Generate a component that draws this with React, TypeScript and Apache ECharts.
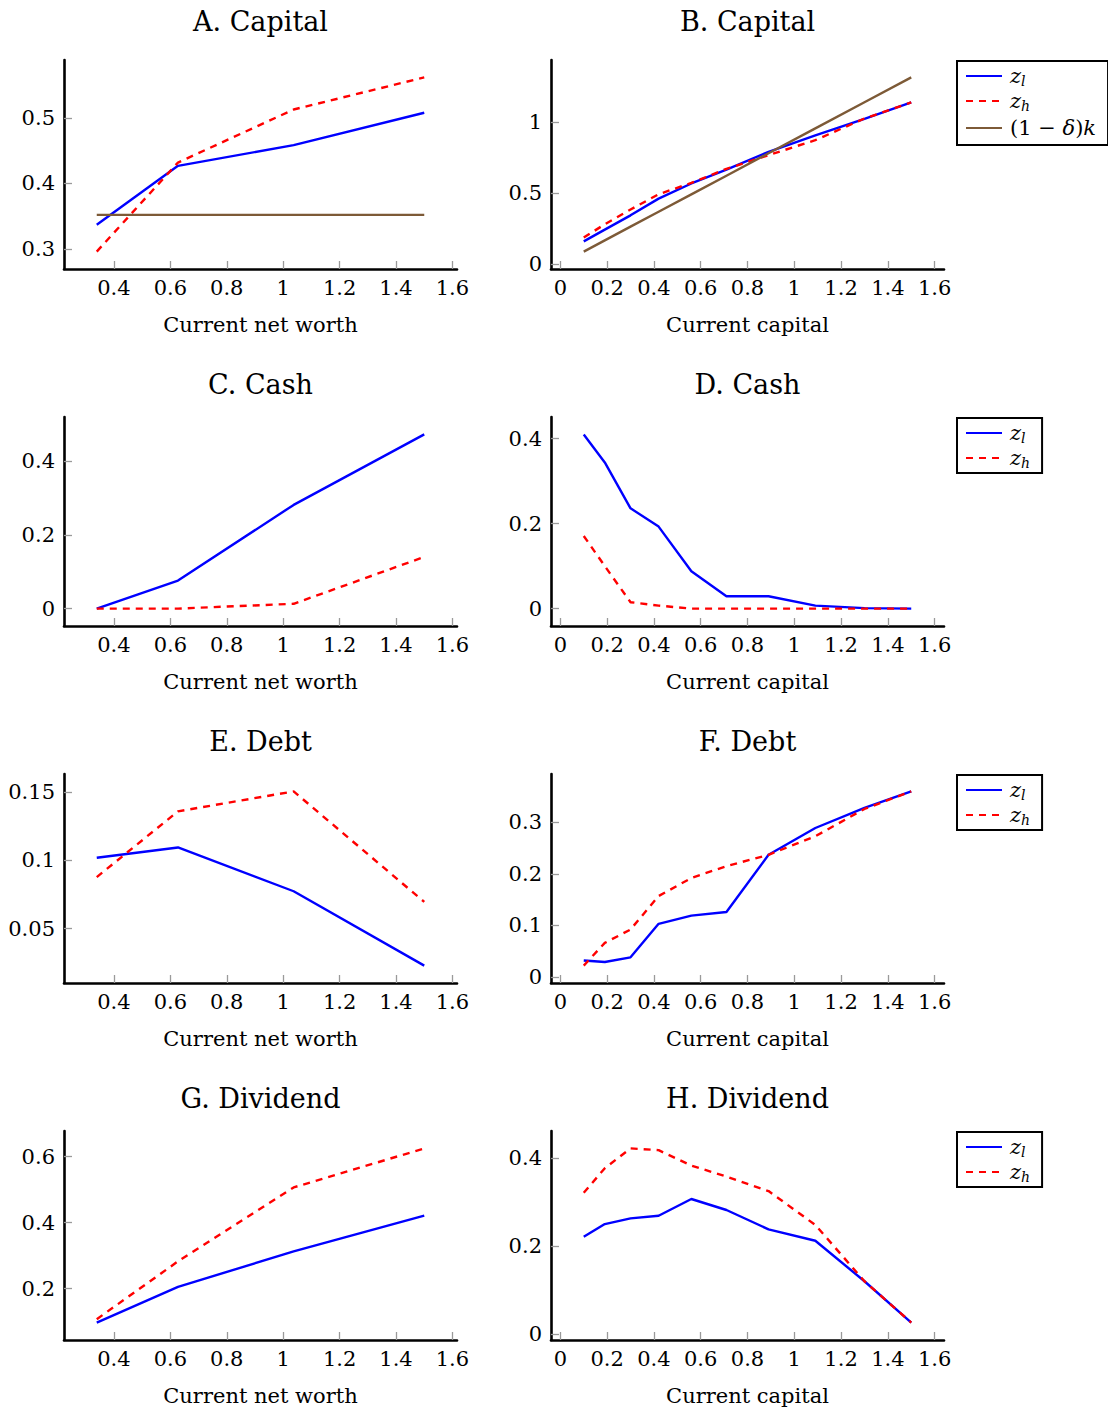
import React, { useEffect, useRef } from 'react';
import * as echarts from 'echarts';

// ---- grids of the state variable ----
const netWorth = [0.339, 0.627, 1.037, 1.5];
const capitalGrid = [0.1, 0.19, 0.3, 0.42, 0.56, 0.71, 0.89, 1.09, 1.3, 1.5];

// ---- tick values ----
const xTicksNetWorth = [0.4, 0.6, 0.8, 1, 1.2, 1.4, 1.6];
const xTicksCapital = [0, 0.2, 0.4, 0.6, 0.8, 1, 1.2, 1.4, 1.6];
const yTicksA = [0.3, 0.4, 0.5];
const yTicksB = [0, 0.5, 1];
const yTicksC = [0, 0.2, 0.4];
const yTicksD = [0, 0.2, 0.4];
const yTicksE = [0.05, 0.1, 0.15];
const yTicksF = [0, 0.1, 0.2, 0.3];
const yTicksG = [0.2, 0.4, 0.6];
const yTicksH = [0, 0.2, 0.4];

// ---- A. Capital vs net worth ----
const capitalA_zl = [0.337, 0.427, 0.4585, 0.508];
const capitalA_zh = [0.296, 0.432, 0.513, 0.562];
const capitalA_dk = [0.352, 0.352, 0.352, 0.352];
// ---- B. Capital vs capital ----
const capitalB_zl = [0.16, 0.243, 0.344, 0.462, 0.569, 0.667, 0.792, 0.908, 1.025, 1.141];
const capitalB_zh = [0.187, 0.281, 0.385, 0.493, 0.573, 0.672, 0.769, 0.875, 1.028, 1.141];
const capitalB_dk = [0.088, 0.167, 0.264, 0.369, 0.492, 0.624, 0.782, 0.958, 1.143, 1.318];
// ---- C. Cash vs net worth ----
const cashC_zl = [0, 0.076, 0.281, 0.472];
const cashC_zh = [0, 0, 0.013, 0.14];
// ---- D. Cash vs capital ----
const cashD_zl = [0.41, 0.344, 0.236, 0.193, 0.088, 0.029, 0.029, 0.007, 0.001, 0];
const cashD_zh = [0.171, 0.1, 0.015, 0.007, 0, 0, 0, 0, 0, 0];
// ---- E. Debt vs net worth ----
const debtE_zl = [0.102, 0.1095, 0.0774, 0.0229];
const debtE_zh = [0.0878, 0.136, 0.1506, 0.0696];
// ---- F. Debt vs capital ----
const debtF_zl = [0.032, 0.029, 0.038, 0.103, 0.119, 0.126, 0.237, 0.289, 0.328, 0.36];
const debtF_zh = [0.022, 0.066, 0.092, 0.157, 0.192, 0.215, 0.237, 0.273, 0.326, 0.36];
// ---- G. Dividend vs net worth ----
const divG_zl = [0.0967, 0.205, 0.3126, 0.421];
const divG_zh = [0.107, 0.2825, 0.5067, 0.625];
// ---- H. Dividend vs capital ----
const divH_zl = [0.221, 0.25, 0.263, 0.269, 0.307, 0.282, 0.238, 0.212, 0.12, 0.026];
const divH_zh = [0.321, 0.377, 0.422, 0.418, 0.383, 0.358, 0.325, 0.248, 0.12, 0.026];

const labelNetWorth = 'Current net worth';
const labelCapital = 'Current capital';

type Panel = {
  title: string;
  x: number[];
  xTicks: number[];
  yTicks: number[];
  xLabel: string;
  zl: number[];
  zh: number[];
  dk?: number[];
  legend: boolean;
};

const panels: Panel[] = [
  { title: 'A. Capital', x: netWorth, xTicks: xTicksNetWorth, yTicks: yTicksA, xLabel: labelNetWorth, zl: capitalA_zl, zh: capitalA_zh, dk: capitalA_dk, legend: false },
  { title: 'B. Capital', x: capitalGrid, xTicks: xTicksCapital, yTicks: yTicksB, xLabel: labelCapital, zl: capitalB_zl, zh: capitalB_zh, dk: capitalB_dk, legend: true },
  { title: 'C. Cash', x: netWorth, xTicks: xTicksNetWorth, yTicks: yTicksC, xLabel: labelNetWorth, zl: cashC_zl, zh: cashC_zh, legend: false },
  { title: 'D. Cash', x: capitalGrid, xTicks: xTicksCapital, yTicks: yTicksD, xLabel: labelCapital, zl: cashD_zl, zh: cashD_zh, legend: true },
  { title: 'E. Debt', x: netWorth, xTicks: xTicksNetWorth, yTicks: yTicksE, xLabel: labelNetWorth, zl: debtE_zl, zh: debtE_zh, legend: false },
  { title: 'F. Debt', x: capitalGrid, xTicks: xTicksCapital, yTicks: yTicksF, xLabel: labelCapital, zl: debtF_zl, zh: debtF_zh, legend: true },
  { title: 'G. Dividend', x: netWorth, xTicks: xTicksNetWorth, yTicks: yTicksG, xLabel: labelNetWorth, zl: divG_zl, zh: divG_zh, legend: false },
  { title: 'H. Dividend', x: capitalGrid, xTicks: xTicksCapital, yTicks: yTicksH, xLabel: labelCapital, zl: divH_zl, zh: divH_zh, legend: true },
];

const FONT = '"DejaVu Serif", "Liberation Serif", serif';
const COLS = [64, 551];
const COL_W = 393;
const ROWS = [60, 417, 774, 1131];
const TITLE_Y = [21, 384, 741, 1098];
const ROW_H = 209;
const BLUE = '#0000ff';
const RED = '#ff0000';
const BROWN = '#7d5a37';

// pgfplots-style enlarged limits (10% on each side)
function enlarged(vals: number[]): [number, number] {
  const lo = Math.min(...vals);
  const hi = Math.max(...vals);
  const pad = (hi - lo) * 0.1;
  return [lo - pad, hi + pad];
}

const fmt = (v: number) => String(parseFloat(Number(v).toFixed(4)));

function buildOption() {
  const grid: any[] = [];
  const xAxis: any[] = [];
  const yAxis: any[] = [];
  const series: any[] = [];
  const legend: any[] = [];
  const graphic: any[] = [];

  panels.forEach((p, i) => {
    const col = i % 2;
    const row = Math.floor(i / 2);
    const left = COLS[col];
    const top = ROWS[row];
    grid.push({ left, top, width: COL_W, height: ROW_H, containLabel: false });

    const [xmin, xmax] = enlarged(p.x);
    const allY = [...p.zl, ...p.zh, ...(p.dk || [])];
    const [ymin, ymax] = enlarged(allY);

    const tickStyle = { show: true, inside: true, length: 8, lineStyle: { color: '#9a9a9a', width: 1.3 } };
    xAxis.push({
      gridIndex: i, type: 'value', min: xmin, max: xmax,
      axisLine: { show: true, onZero: false, lineStyle: { color: '#000', width: 2.6 } },
      axisTick: { ...tickStyle, customValues: p.xTicks },
      axisLabel: { customValues: p.xTicks, formatter: fmt, fontFamily: FONT, fontSize: 21, color: '#000', margin: 8 },
      splitLine: { show: false },
      name: p.xLabel, nameLocation: 'middle', nameGap: 45,
      nameTextStyle: { fontFamily: FONT, fontSize: 21, color: '#000' },
    });
    yAxis.push({
      gridIndex: i, type: 'value', min: ymin, max: ymax,
      axisLine: { show: true, onZero: false, lineStyle: { color: '#000', width: 2.6 } },
      axisTick: { ...tickStyle, customValues: p.yTicks },
      axisLabel: { customValues: p.yTicks, formatter: fmt, fontFamily: FONT, fontSize: 21, color: '#000', margin: 9 },
      splitLine: { show: false },
    });

    const mk = (name: string, ys: number[], color: string, type: any) => ({
      type: 'line', name, xAxisIndex: i, yAxisIndex: i,
      data: p.x.map((xv, j) => [xv, ys[j]]),
      symbol: 'none', showSymbol: false, silent: true,
      lineStyle: { color, width: 2.4, type, cap: 'butt' },
      itemStyle: { color },
    });
    series.push(mk('zl', p.zl, BLUE, 'solid'));
    series.push(mk('zh', p.zh, RED, [7, 6]));
    if (p.dk) series.push(mk('dk', p.dk, BROWN, 'solid'));

    if (p.legend) {
      legend.push({
        show: true,
        data: p.dk ? ['zl', 'zh', 'dk'] : ['zl', 'zh'],
        orient: 'vertical',
        left: 957, top: top + 1,
        padding: [3, 12, 3, 8],
        itemGap: 1,
        itemWidth: 36, itemHeight: 14,
        itemStyle: { opacity: 0, borderWidth: 0 },
        borderColor: '#000', borderWidth: 2, borderRadius: 0,
        backgroundColor: '#fff',
        selectedMode: false,
        formatter: (name: string) =>
          name === 'zl' ? '{z|z}{s|l}' : name === 'zh' ? '{z|z}{s|h}' : '{t|(1 − }{z|δ}{t|)}{z|k}',
        textStyle: {
          padding: [0, 0, 0, 3],
          lineHeight: 24,
          rich: {
            z: { fontFamily: FONT, fontStyle: 'italic', fontSize: 21, color: '#000', lineHeight: 24 },
            s: { fontFamily: FONT, fontStyle: 'italic', fontSize: 14, color: '#000', padding: [10, 0, 0, 0], lineHeight: 24 },
            t: { fontFamily: FONT, fontSize: 21, color: '#000', lineHeight: 28 },
          },
        },
      });
    }

    graphic.push({
      type: 'text',
      x: left + COL_W / 2,
      y: TITLE_Y[row],
      style: {
        text: p.title,
        font: `27px ${FONT}`,
        fill: '#000',
        textAlign: 'center',
        textVerticalAlign: 'middle',
        align: 'center',
        verticalAlign: 'middle',
      },
    });
  });

  return { animation: false, backgroundColor: '#fff', grid, xAxis, yAxis, series, legend, graphic };
}

export default function App() {
  const ref = useRef<HTMLDivElement>(null);
  useEffect(() => {
    if (!ref.current) return;
    const chart = echarts.init(ref.current, undefined, { renderer: 'svg' });
    chart.setOption(buildOption() as any);
    return () => chart.dispose();
  }, []);
  return (
    <div
      ref={ref}
      style={{ position: 'absolute', left: 0, top: 0, width: 1108, height: 1412, background: '#fff' }}
    />
  );
}
